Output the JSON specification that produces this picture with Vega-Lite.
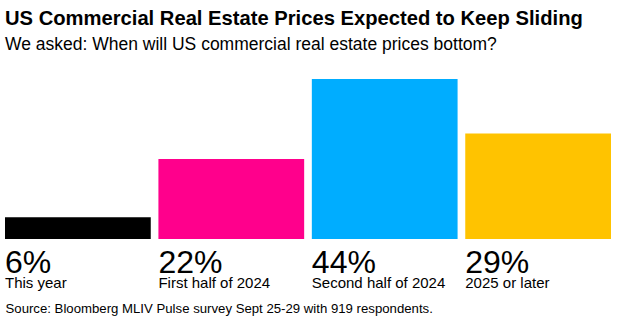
{
  "$schema": "https://vega.github.io/schema/vega-lite/v6.json",
  "width": 606,
  "height": 160,
  "autosize": {"type": "none"},
  "padding": {"left": 5, "top": 79, "right": 17, "bottom": 84},
  "background": "white",
  "title": {
    "text": "US Commercial Real Estate Prices Expected to Keep Sliding",
    "subtitle": "We asked: When will US commercial real estate prices bottom?",
    "anchor": "start",
    "frame": "group",
    "offset": 26,
    "font": "Liberation Sans",
    "fontSize": 20.2,
    "fontWeight": "bold",
    "color": "#000000",
    "subtitleFont": "Liberation Sans",
    "subtitleFontSize": 17.5,
    "subtitleColor": "#000000",
    "subtitlePadding": 6
  },
  "data": {
    "values": [
      {"period": "This year", "share": 6, "label": "6%"},
      {"period": "First half of 2024", "share": 22, "label": "22%"},
      {"period": "Second half of 2024", "share": 44, "label": "44%"},
      {"period": "2025 or later", "share": 29, "label": "29%"}
    ]
  },
  "encoding": {
    "x": {
      "field": "period",
      "type": "nominal",
      "sort": null,
      "scale": {"paddingInner": 0.05, "paddingOuter": 0},
      "axis": {
        "domain": false,
        "ticks": false,
        "labels": false,
        "title": "Source: Bloomberg MLIV Pulse survey Sept 25-29 with 919 respondents.",
        "titleAnchor": "start",
        "titleAlign": "left",
        "titleBaseline": "alphabetic",
        "titlePadding": 73,
        "titleFont": "Liberation Sans",
        "titleFontSize": 13.2,
        "titleFontWeight": "normal",
        "titleColor": "#000000"
      }
    }
  },
  "layer": [
    {
      "mark": {"type": "bar"},
      "encoding": {
        "y": {
          "field": "share",
          "type": "quantitative",
          "scale": {"domain": [0, 44], "nice": false},
          "axis": null
        },
        "color": {
          "field": "period",
          "type": "nominal",
          "sort": null,
          "scale": {
            "domain": ["This year", "First half of 2024", "Second half of 2024", "2025 or later"],
            "range": ["#000000", "#FF008C", "#00ADFF", "#FFC300"]
          },
          "legend": null
        }
      }
    },
    {
      "mark": {"type": "text", "align": "left", "baseline": "alphabetic", "dy": 34, "font": "Liberation Sans", "fontSize": 32, "color": "#000000"},
      "encoding": {
        "x": {"field": "period", "type": "nominal", "sort": null, "bandPosition": 0},
        "y": {"datum": 0, "type": "quantitative"},
        "text": {"field": "label"}
      }
    },
    {
      "mark": {"type": "text", "align": "left", "baseline": "alphabetic", "dy": 49, "font": "Liberation Sans", "fontSize": 15, "color": "#000000"},
      "encoding": {
        "x": {"field": "period", "type": "nominal", "sort": null, "bandPosition": 0},
        "y": {"datum": 0, "type": "quantitative"},
        "text": {"field": "period"}
      }
    }
  ],
  "config": {"view": {"stroke": null}}
}
